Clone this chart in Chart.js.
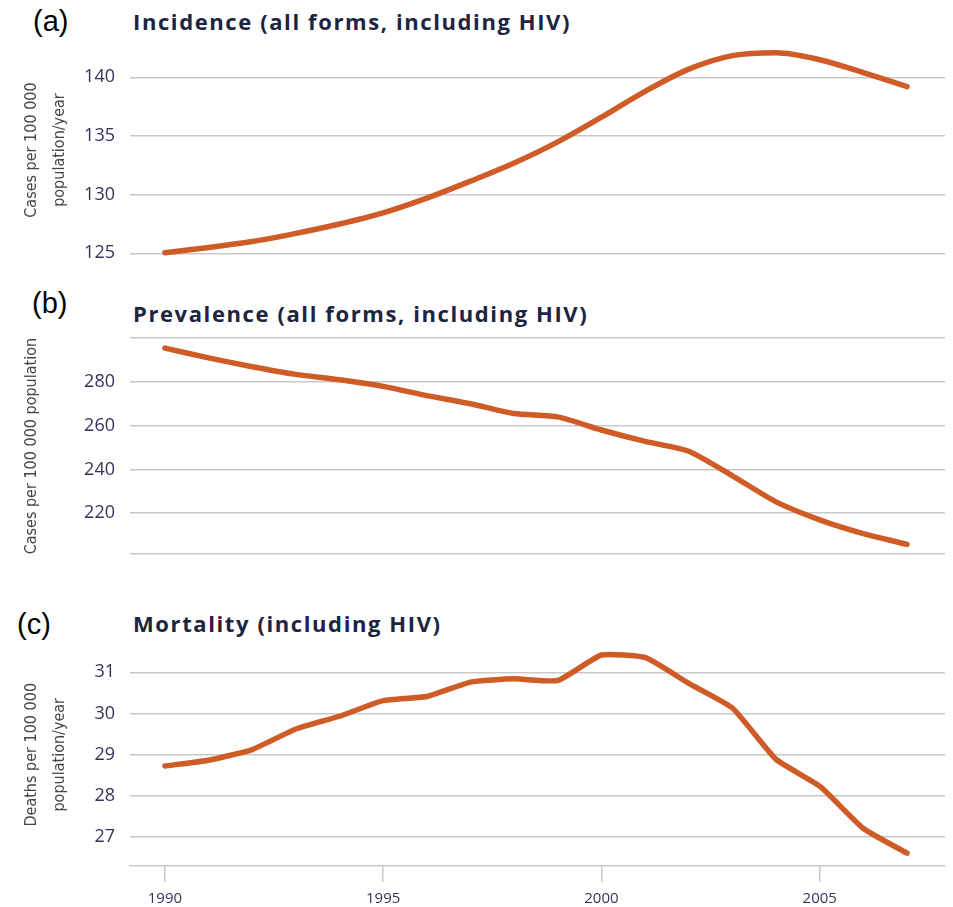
<!DOCTYPE html>
<html>
<head>
<meta charset="utf-8">
<script src="https://cdn.jsdelivr.net/npm/chart.js@4/dist/chart.umd.min.js"></script>
<style>
  html, body { margin: 0; padding: 0; background: #ffffff; }
  body { width: 953px; height: 907px; position: relative; overflow: hidden; }
  canvas { position: absolute; left: 0; }
  .panel { position: absolute; font-family: "Liberation Sans", Arial, sans-serif; font-size: 29px; color: #000; line-height: 1; }
  .ttl { position: absolute; left: 133px; font-family: "Open Sans", sans-serif; font-weight: 700; font-size: 22px; letter-spacing: 1.6px; color: #1d2440; line-height: 1; white-space: nowrap; }
</style>
</head>
<body>
<div class="panel" style="left:33px; top:7px;">(a)</div>
<div class="ttl" style="top:10px;">Incidence (all forms, including HIV)</div>
<div class="panel" style="left:32px; top:289px;">(b)</div>
<div class="ttl" style="top:302px;">Prevalence (all forms, including HIV)</div>
<div class="panel" style="left:17px; top:610px;">(c)</div>
<div class="ttl" style="top:612px;">Mortality (including HIV)</div>

<canvas id="cA" width="953" height="280" style="top:0px;"></canvas>
<canvas id="cB" width="953" height="300" style="top:280px;"></canvas>
<canvas id="cC" width="953" height="327" style="top:580px;"></canvas>

<script>
// ---- data ----
const years = [1990, 1991, 1992, 1993, 1994, 1995, 1996, 1997, 1998, 1999, 2000, 2001, 2002, 2003, 2004, 2005, 2006, 2007];
const incidence = [125.05, 125.5, 126.0, 126.7, 127.5, 128.45, 129.7, 131.15, 132.7, 134.5, 136.6, 138.8, 140.7, 141.85, 142.1, 141.5, 140.4, 139.2];
const prevalence = [295.4, 290.9, 286.9, 283.4, 280.9, 277.9, 273.7, 270.0, 265.5, 264.0, 258.0, 252.8, 248.3, 237.1, 225.2, 217.0, 210.7, 205.8];
const mortality = [28.72, 28.86, 29.12, 29.62, 29.93, 30.31, 30.41, 30.76, 30.84, 30.80, 31.42, 31.36, 30.73, 30.13, 28.88, 28.23, 27.2, 26.6];
const xTickLabels = [1990, 1995, 2000, 2005];
const yTicksA = [125, 130, 135, 140];
const yTicksB = [220, 240, 260, 280];
const yTicksC = [27, 28, 29, 30, 31];

// ---- style ----
const LINE = '#cf5c27';
const GRID = '#c9c9c9';
const TICK = '#34345a';
const AXT = '#4a4444';

function pts(vals) { return years.map((y, i) => ({ x: y, y: vals[i] })); }

function makeChart(id, vals, opt) {
  const showX = !!opt.showX;
  return new Chart(document.getElementById(id), {
    type: 'line',
    data: { datasets: [{
      data: pts(vals),
      borderColor: LINE,
      borderWidth: 5.5,
      borderCapStyle: 'round',
      borderJoinStyle: 'round',
      pointRadius: 0,
      fill: false,
      tension: opt.tension,
      cubicInterpolationMode: opt.mono ? 'monotone' : 'default',
      clip: false
    }]},
    options: {
      responsive: false,
      animation: false,
      devicePixelRatio: 1,
      layout: { padding: { top: opt.padTop, bottom: opt.padBottom, left: 0, right: 8 } },
      plugins: { legend: { display: false }, tooltip: { enabled: false } },
      scales: {
        x: {
          type: 'linear',
          min: 1989.2,
          max: 2007.87,
          display: showX,
          afterBuildTicks: s => { s.ticks = xTickLabels.map(v => ({ value: v })); },
          afterFit: s => { if (showX) s.height = 41; },
          border: { display: showX, color: GRID, width: 1.5 },
          grid: { drawOnChartArea: false, drawTicks: true, tickLength: 16, color: GRID, lineWidth: 1.5 },
          ticks: { color: TICK, font: { family: 'Open Sans', size: 15 }, padding: 8, maxRotation: 0, callback: v => String(v) }
        },
        y: {
          type: 'linear',
          min: opt.min,
          max: opt.max,
          afterBuildTicks: s => { s.ticks = opt.gridVals.map(v => ({ value: v })); },
          afterFit: s => { s.width = 130; },
          border: { display: false },
          grid: { drawTicks: false, color: GRID, lineWidth: 1.5 },
          ticks: {
            color: TICK, font: { family: 'Open Sans', size: 18 }, padding: 15,
            callback: v => (opt.labels.includes(v) ? String(v) : '')
          },
          title: {
            display: true,
            text: opt.title,
            color: AXT,
            font: { family: '"Liberation Sans Narrow", "DejaVu Sans Condensed", sans-serif', size: 16, lineHeight: 1.75 },
            padding: { top: 18, bottom: 0 }
          }
        }
      }
    }
  });
}

makeChart('cA', incidence, {
  min: 125, max: 142.6, gridVals: yTicksA, labels: yTicksA,
  title: ['Cases per 100 000', 'population/year'],
  padTop: 46.8, padBottom: 26.7, tension: 0.4, mono: true
});
makeChart('cB', prevalence, {
  min: 201.3, max: 300, gridVals: [201.3].concat(yTicksB, [300]), labels: yTicksB,
  title: 'Cases per 100 000 population',
  padTop: 58, padBottom: 21, tension: 0.2, mono: false
});
makeChart('cC', mortality, {
  min: 26.287, max: 31.7, gridVals: yTicksC, labels: yTicksC,
  title: ['Deaths per 100 000', 'population/year'],
  padTop: 63.5, padBottom: 0, tension: 0.15, mono: false, showX: true
});
</script>
</body>
</html>
